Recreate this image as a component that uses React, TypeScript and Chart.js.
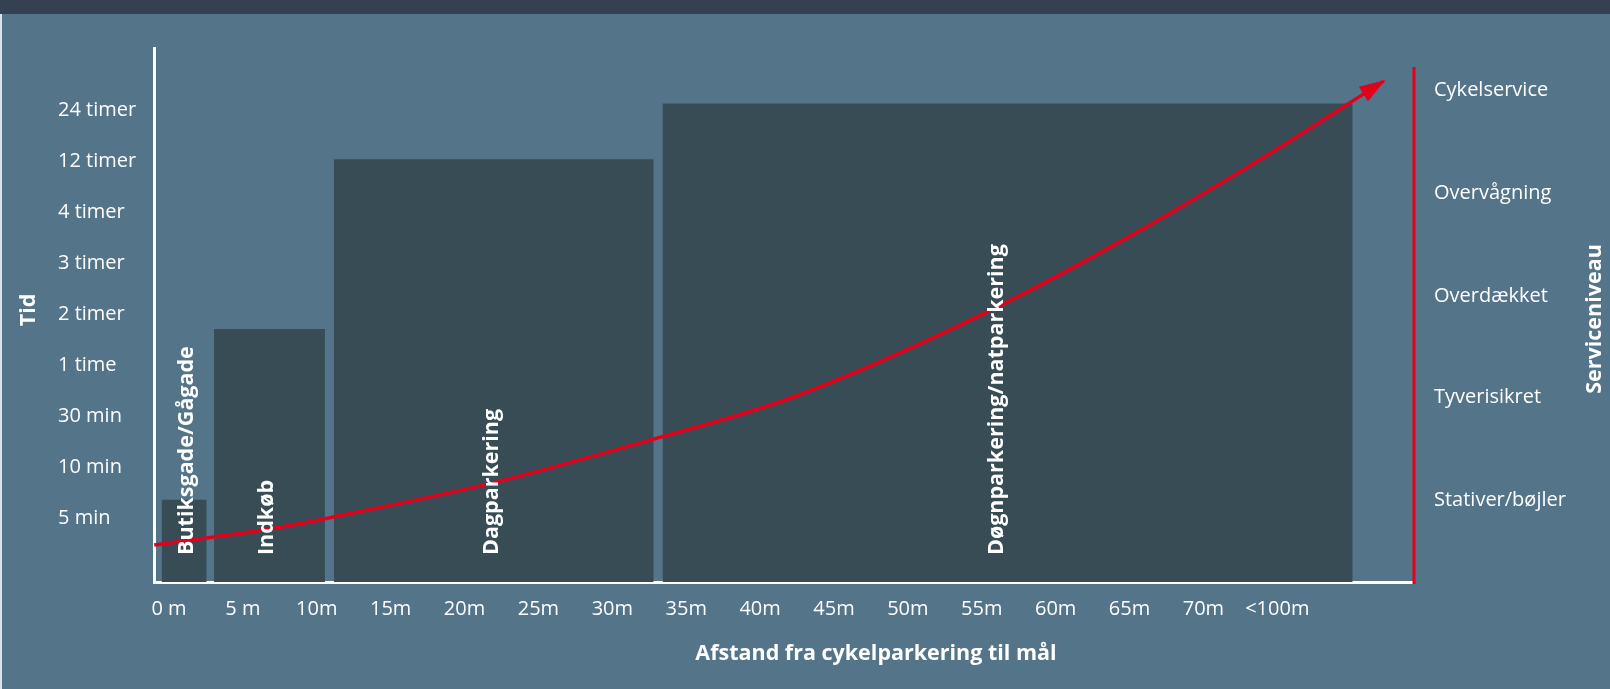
import React, { useEffect, useRef } from "react";
import { Chart, registerables } from "chart.js";

Chart.register(...registerables);

// Axis tick labels
const distanceLabels = ["0 m", "5 m", "10m", "15m", "20m", "25m", "30m", "35m", "40m", "45m", "50m", "55m", "60m", "65m", "70m", "<100m"];
const timeLabels = ["5 min", "10 min", "30 min", "1 time", "2 timer", "3 timer", "4 timer", "12 timer", "24 timer"];
const serviceLabels = ["Stativer/bøjler", "Tyverisikret", "Overdækket", "Overvågning", "Cykelservice"];
const serviceLevels = [1.35, 3.37, 5.35, 7.37, 9.39];

// Parking zones (x in distance-tick units, top in time-tick units)
const zoneNames = ["Butiksgade/Gågade", "Indkøb", "Dagparkering", "Døgnparkering/natparkering"];
const zoneStart = [-0.1, 0.61, 2.23, 6.68];
const zoneEnd = [0.51, 2.11, 6.56, 16.02];
const zoneTop = [1.32, 4.67, 8.0, 9.09];
const zoneLabelAt = [0.24, 1.33, 4.37, 11.2];

// Service level curve
const curveX = [-0.2, 1.46, 2.22, 4.38, 6.51, 8.44, 11.04, 12.98, 14.91, 16.44];
const curveY = [0.43, 0.77, 0.98, 1.65, 2.49, 3.33, 4.98, 6.47, 8.12, 9.53];

const BG = "#547489";
const BAND = "#344150";
const ZONE = "#374c55";
const RED = "#e3001b";
const WHITE = "#ffffff";
const FONT = '"Open Sans", sans-serif';

const X_MIN = -0.203;
const X_MAX = 16.85;
const Y_MIN = -0.294;
const Y_MAX = 10.18;

const decorations = {
  id: "decorations",
  beforeDraw(chart: any) {
    const { ctx, width, height } = chart;
    ctx.save();
    ctx.fillStyle = BG;
    ctx.fillRect(0, 0, width, height);
    ctx.fillStyle = BAND;
    ctx.fillRect(0, 0, width, 14);
    ctx.fillStyle = "#dde3e8";
    ctx.fillRect(0, 14, 2, height - 14);
    ctx.restore();
  },
  afterDatasetsDraw(chart: any) {
    const { ctx, chartArea } = chart;
    const xs = chart.scales.x;

    // arrow head at the end of the curve
    const meta = chart.getDatasetMeta(0);
    const pts = meta.data;
    const p = pts[pts.length - 1];
    const q = pts[pts.length - 2];
    let fx = p.cp1x !== undefined ? p.cp1x : q.x;
    let fy = p.cp1y !== undefined ? p.cp1y : q.y;
    if (Math.hypot(p.x - fx, p.y - fy) < 1) {
      fx = q.x;
      fy = q.y;
    }
    const ang = Math.atan2(p.y - fy, p.x - fx);
    const len = 24;
    const half = 8.5;
    ctx.save();
    ctx.translate(p.x, p.y);
    ctx.rotate(ang);
    ctx.fillStyle = RED;
    ctx.beginPath();
    ctx.moveTo(2, 0);
    ctx.lineTo(-len, -half);
    ctx.lineTo(-len, half);
    ctx.closePath();
    ctx.fill();
    ctx.restore();

    // zone labels
    ctx.save();
    ctx.fillStyle = WHITE;
    ctx.font = `bold 21.5px ${FONT}`;
    ctx.textAlign = "left";
    ctx.textBaseline = "middle";
    zoneNames.forEach((name, i) => {
      const x = xs.getPixelForValue(zoneLabelAt[i]);
      ctx.save();
      ctx.translate(x, chartArea.bottom - 27);
      ctx.rotate(-Math.PI / 2);
      ctx.fillText(name, 0, 0);
      ctx.restore();
    });
    ctx.restore();
  },
  afterDraw(chart: any) {
    const { ctx, chartArea, width } = chart;
    ctx.save();
    // service level axis
    ctx.strokeStyle = RED;
    ctx.lineWidth = 3;
    ctx.beginPath();
    ctx.moveTo(chartArea.right, chartArea.bottom + 2);
    ctx.lineTo(chartArea.right, chartArea.top + 19);
    ctx.stroke();

    // axis titles
    ctx.fillStyle = WHITE;
    ctx.font = `bold 21.5px ${FONT}`;
    ctx.textAlign = "center";
    ctx.textBaseline = "middle";
    ctx.fillText("Afstand fra cykelparkering til mål", 876, 654);

    const midY = (chartArea.top + chartArea.bottom) / 2;
    ctx.save();
    ctx.translate(29, midY - 5);
    ctx.rotate(-Math.PI / 2);
    ctx.fillText("Tid", 0, 0);
    ctx.restore();

    ctx.save();
    ctx.translate(width - 15, midY + 4);
    ctx.rotate(-Math.PI / 2);
    ctx.fillText("Serviceniveau", 0, 0);
    ctx.restore();
    ctx.restore();
  },
};

export default function App() {
  const ref = useRef<HTMLCanvasElement>(null);

  useEffect(() => {
    document.body.style.margin = "0";
    const canvas = ref.current;
    if (!canvas) return;

    const zoneSets = zoneNames.map((name, i) => ({
      label: name,
      data: [
        { x: zoneStart[i], y: zoneTop[i] },
        { x: zoneEnd[i], y: zoneTop[i] },
      ],
      borderWidth: 0,
      borderColor: ZONE,
      backgroundColor: ZONE,
      pointRadius: 0,
      fill: "start",
      tension: 0,
      order: 1,
    }));

    const chart = new Chart(canvas, {
      type: "line",
      data: {
        datasets: [
          {
            label: "Serviceniveau",
            data: curveX.map((x, i) => ({ x, y: curveY[i] })),
            borderColor: RED,
            borderWidth: 3.5,
            pointRadius: 0,
            fill: false,
            cubicInterpolationMode: "monotone",
            clip: false as any,
            order: 0,
          } as any,
          ...zoneSets,
        ],
      },
      options: {
        responsive: false,
        animation: false,
        devicePixelRatio: 1,
        layout: { padding: { left: 58, top: 48, right: 0, bottom: 0 } },
        plugins: {
          legend: { display: false },
          tooltip: { enabled: false },
        },
        scales: {
          x: {
            type: "linear",
            position: "bottom",
            min: X_MIN,
            max: X_MAX,
            afterBuildTicks: (s: any) => {
              s.ticks = distanceLabels.map((_, i) => ({ value: i }));
            },
            afterFit: (s: any) => {
              s.height = 107;
            },
            ticks: {
              callback: (_v: any, i: number) => distanceLabels[i],
              color: WHITE,
              font: { family: FONT, size: 20 },
              padding: 15,
              maxRotation: 0,
              autoSkip: false,
            },
            grid: { display: false, drawTicks: false, tickLength: 0 },
            border: { display: true, color: WHITE, width: 3 },
          },
          y: {
            type: "linear",
            position: "left",
            min: Y_MIN,
            max: Y_MAX,
            afterBuildTicks: (s: any) => {
              s.ticks = timeLabels.map((_, i) => ({ value: i + 1 }));
            },
            afterFit: (s: any) => {
              s.width = 96;
            },
            ticks: {
              callback: (_v: any, i: number) => timeLabels[i],
              color: WHITE,
              font: { family: FONT, size: 20 },
              crossAlign: "far",
              padding: 0,
              labelOffset: 2.5,
              autoSkip: false,
            },
            grid: { display: false, drawTicks: false, tickLength: 0 },
            border: { display: true, color: WHITE, width: 3 },
          },
          y2: {
            type: "linear",
            position: "right",
            min: Y_MIN,
            max: Y_MAX,
            afterBuildTicks: (s: any) => {
              s.ticks = serviceLevels.map((v) => ({ value: v }));
            },
            afterFit: (s: any) => {
              s.width = 196;
            },
            ticks: {
              callback: (_v: any, i: number) => serviceLabels[i],
              color: WHITE,
              font: { family: FONT, size: 20 },
              crossAlign: "near",
              padding: 20,
              labelOffset: 2,
              autoSkip: false,
            },
            grid: { display: false, drawTicks: false, tickLength: 0 },
            border: { display: false },
          },
        },
      } as any,
      plugins: [decorations],
    });

    return () => chart.destroy();
  }, []);

  return (
    <div style={{ width: 1610, height: 689 }}>
      <canvas ref={ref} width={1610} height={689} style={{ display: "block" }} />
    </div>
  );
}
